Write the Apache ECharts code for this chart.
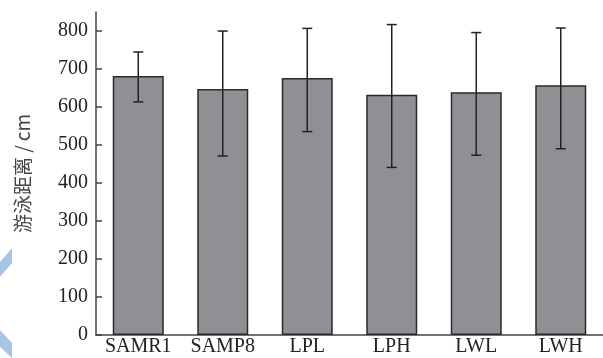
<!DOCTYPE html>
<html><head><meta charset="utf-8">
<script src="https://cdn.jsdelivr.net/npm/echarts@6/dist/echarts.min.js"></script>
<style>html,body{margin:0;padding:0;background:#fff}#c{width:603px;height:358px}</style>
</head><body><div id="c"></div>
<script>
const categories = ['SAMR1','SAMP8','LPL','LPH','LWL','LWH'];
const means = [680, 646, 675, 631, 637, 656];
const errUpper = [743, 798, 805, 815, 794, 806];
const errLower = [612, 470, 534, 440, 472, 489];
const yTicks = [0,100,200,300,400,500,600,700,800];

const chart = echarts.init(document.getElementById('c'));
const font = '"Liberation Serif", "Times New Roman", serif';
chart.setOption({
  animation: false,
  graphic: [
    {type: 'polygon', z: -1, shape: {points: [[0,262],[12,248],[12,263],[0,277]]}, style: {fill: '#aac4e6'}},
    {type: 'polygon', z: -1, shape: {points: [[0,330],[12,343],[12,358],[0,347]]}, style: {fill: '#aac4e6'}}
  ],
  grid: {left: 96, top: 12, width: 511, bottom: 23},
  xAxis: {
    type: 'category', data: categories,
    axisLine: {lineStyle: {color: '#444', width: 1.5}},
    axisTick: {show: false},
    axisLabel: {color: '#222', fontFamily: font, fontSize: 20, margin: 2, interval: 0, hideOverlap: false}
  },
  yAxis: {
    type: 'value', min: 0, max: 848, interval: 100,
    name: '游泳距离 / cm', nameLocation: 'middle', nameGap: 64,
    nameTextStyle: {fontFamily: '"Noto Sans CJK SC", serif', fontSize: 19, color: '#444'},
    splitLine: {show: false},
    axisLine: {show: true, lineStyle: {color: '#444', width: 1.5}},
    axisTick: {show: true, inside: true, length: 6, customValues: yTicks, lineStyle: {color: '#444', width: 1.5}},
    axisLabel: {color: '#222', fontFamily: font, fontSize: 20, margin: 8, customValues: yTicks}
  },
  series: [
    {
      type: 'bar', data: means, barWidth: 51,
      itemStyle: {color: '#8f9094', borderColor: '#2a2a2a', borderWidth: 1.5}
    },
    {
      type: 'custom', z: 5,
      data: categories.map((c, i) => [i, errLower[i], errUpper[i]]),
      renderItem: function (params, api) {
        const x = api.value(0);
        const lo = api.coord([x, api.value(1)]);
        const hi = api.coord([x, api.value(2)]);
        const cap = 5;
        const st = {stroke: '#222', lineWidth: 1.5};
        return {type: 'group', children: [
          {type: 'line', shape: {x1: lo[0], y1: lo[1], x2: hi[0], y2: hi[1]}, style: st},
          {type: 'line', shape: {x1: hi[0]-cap, y1: hi[1], x2: hi[0]+cap, y2: hi[1]}, style: st},
          {type: 'line', shape: {x1: lo[0]-cap, y1: lo[1], x2: lo[0]+cap, y2: lo[1]}, style: st}
        ]};
      }
    }
  ]
});
</script></body></html>
